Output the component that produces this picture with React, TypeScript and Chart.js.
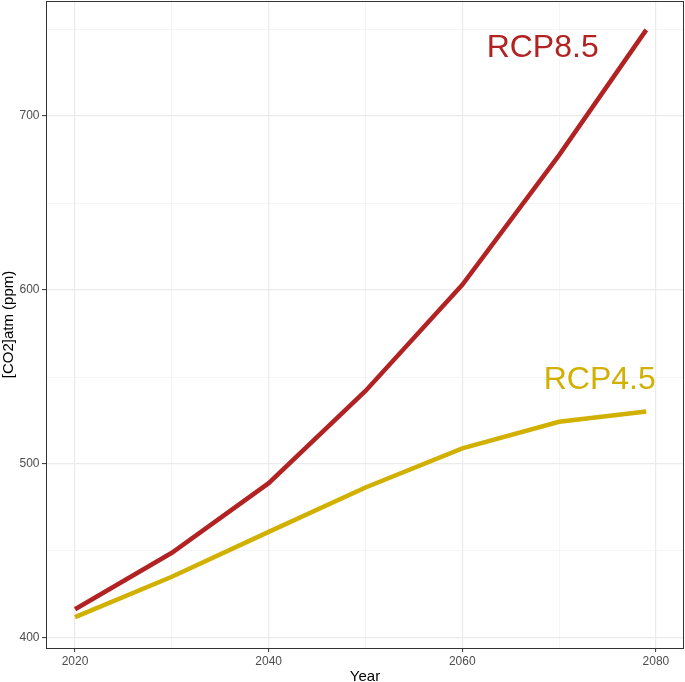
import React, { useEffect, useRef } from "react";
import { Chart, registerables } from "chart.js";

Chart.register(...registerables);

const years = [2020, 2030, 2040, 2050, 2060, 2070, 2079];
const rcp85 = [416.5, 449, 489, 542, 603, 677.5, 749.5];
const rcp45 = [412, 435.2, 461, 486.5, 509, 524.3, 530.2];
const xTicks = [2020, 2030, 2040, 2050, 2060, 2070, 2080];
const yTicks = [400, 450, 500, 550, 600, 650, 700, 750];
const xMajor = [2020, 2040, 2060, 2080];
const yMajor = [400, 500, 600, 700];

const RED = "#B22222";
const GOLD = "#D1B000";
const FONT = "'Liberation Sans', Arial, Helvetica, sans-serif";

export default function App() {
  const ref = useRef<HTMLCanvasElement | null>(null);

  useEffect(() => {
    document.body.style.margin = "0";
    const canvas = ref.current;
    if (!canvas) return;

    const overlay = {
      id: "overlay",
      afterDraw(chart: any) {
        const { ctx, chartArea } = chart;
        const xs = chart.scales.x;
        const ys = chart.scales.y;
        ctx.save();
        // panel border
        ctx.strokeStyle = "#333333";
        ctx.lineWidth = 1;
        ctx.strokeRect(
          Math.round(chartArea.left) + 0.5,
          Math.round(chartArea.top) + 0.5,
          Math.round(chartArea.right - chartArea.left) - 1,
          Math.round(chartArea.bottom - chartArea.top)
        );
        // series labels
        ctx.font = `32px ${FONT}`;
        ctx.textAlign = "center";
        ctx.textBaseline = "alphabetic";
        ctx.fillStyle = RED;
        ctx.fillText("RCP8.5", xs.getPixelForValue(2068.3), ys.getPixelForValue(734));
        ctx.fillStyle = GOLD;
        ctx.fillText("RCP4.5", xs.getPixelForValue(2074.2), ys.getPixelForValue(543));
        // axis titles
        ctx.fillStyle = "#000000";
        ctx.font = `15px ${FONT}`;
        ctx.fillText("Year", (chartArea.left + chartArea.right) / 2, 681);
        ctx.translate(13, (chartArea.top + chartArea.bottom) / 2);
        ctx.rotate(-Math.PI / 2);
        ctx.fillText("[CO2]atm (ppm)", 0, 0);
        ctx.restore();
      },
    };

    const chart = new Chart(canvas, {
      type: "line",
      data: {
        datasets: [
          {
            label: "RCP8.5",
            data: years.map((y, i) => ({ x: y, y: rcp85[i] })),
            borderColor: RED,
            borderWidth: 4.5,
            pointRadius: 0,
            tension: 0,
            fill: false,
          },
          {
            label: "RCP4.5",
            data: years.map((y, i) => ({ x: y, y: rcp45[i] })),
            borderColor: GOLD,
            borderWidth: 4.5,
            pointRadius: 0,
            tension: 0,
            fill: false,
          },
        ],
      },
      options: {
        animation: false,
        responsive: false,
        maintainAspectRatio: false,
        layout: { padding: { top: 1, right: 1, left: 0, bottom: 0 } },
        plugins: {
          legend: { display: false },
          tooltip: { enabled: false },
        },
        scales: {
          x: {
            type: "linear",
            min: 2017.0,
            max: 2082.9,
            afterBuildTicks: (s: any) => {
              s.ticks = xTicks.map((v) => ({ value: v }));
            },
            afterFit: (s: any) => {
              s.height = 34;
              s.paddingLeft = 0;
              s.paddingRight = 0;
            },
            border: { display: false },
            grid: {
              color: (c: any) => (xMajor.includes(c.tick?.value) ? "#EBEBEB" : "#F3F3F3"),
              lineWidth: (c: any) => (xMajor.includes(c.tick?.value) ? 1.2 : 0.8),
              tickColor: (c: any) => (xMajor.includes(c.tick?.value) ? "#333333" : "rgba(0,0,0,0)"),
              tickLength: 4,
              tickWidth: 1,
            },
            ticks: {
              autoSkip: false,
              maxRotation: 0,
              padding: 2,
              color: "#4D4D4D",
              font: { family: FONT, size: 12 },
              callback: (v: any) => (xMajor.includes(Number(v)) ? String(v) : ""),
            },
          },
          y: {
            type: "linear",
            min: 394.25,
            max: 766.1,
            afterBuildTicks: (s: any) => {
              s.ticks = yTicks.map((v) => ({ value: v }));
            },
            afterFit: (s: any) => {
              s.width = 46;
              s.paddingTop = 0;
              s.paddingBottom = 0;
            },
            border: { display: false },
            grid: {
              color: (c: any) => (yMajor.includes(c.tick?.value) ? "#EBEBEB" : "#F3F3F3"),
              lineWidth: (c: any) => (yMajor.includes(c.tick?.value) ? 1.2 : 0.8),
              tickColor: (c: any) => (yMajor.includes(c.tick?.value) ? "#333333" : "rgba(0,0,0,0)"),
              tickLength: 4,
              tickWidth: 1,
            },
            ticks: {
              autoSkip: false,
              padding: 2.5,
              color: "#4D4D4D",
              font: { family: FONT, size: 12 },
              callback: (v: any) => (yMajor.includes(Number(v)) ? String(v) : ""),
            },
          },
        },
      },
      plugins: [overlay],
    });

    return () => chart.destroy();
  }, []);

  return (
    <div style={{ width: 685, height: 682, background: "#FFFFFF" }}>
      <canvas ref={ref} width={685} height={682} style={{ display: "block" }} />
    </div>
  );
}
